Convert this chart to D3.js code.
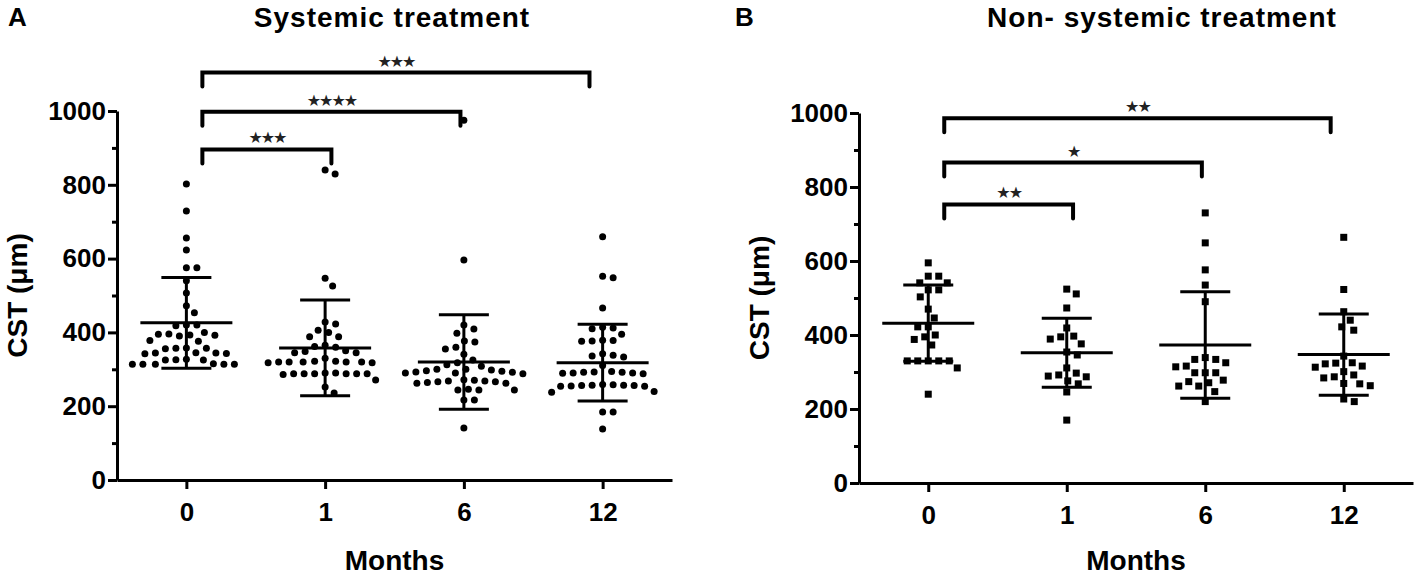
<!DOCTYPE html>
<html>
<head>
<meta charset="utf-8">
<script src="https://cdn.jsdelivr.net/npm/d3@7"></script>
<style>
body { margin: 0; background: #fff; }
svg text { font-family: "Liberation Sans", Arial, sans-serif; font-weight: bold; fill: #000; }
</style>
</head>
<body>
<div id="chart"></div>
<script>
/* categories and ticks */
var months = ["0", "1", "6", "12"];
var majorTicks = [0, 200, 400, 600, 800, 1000];
var minorTicks = [100, 300, 500, 700, 900];

/* A - systemic treatment, CST in um, one list per month */
var systemicValues = [
	[802, 729, 656, 623, 575, 575, 540, 507, 472, 453, 420, 420, 418, 400, 395, 393, 392, 390, 396, 378, 376,
		358, 357, 357, 356, 345, 344, 344, 343, 342, 327, 326, 325, 325, 315, 314, 314, 314, 314, 314],
	[840, 829, 547, 526, 428, 423, 406, 400, 388, 388, 365, 362, 360, 350, 348, 345, 345, 330, 322, 322, 320,
		320, 320, 320, 320, 318, 318, 290, 290, 288, 288, 288, 288, 288, 288, 286, 271, 252, 236],
	[975, 596, 420, 409, 398, 377, 374, 360, 355, 341, 325, 318, 312, 308, 300, 300, 298, 296, 295, 293, 292,
		290, 290, 288, 272, 270, 268, 268, 266, 266, 264, 262, 262, 246, 244, 244, 244, 217, 217, 141],
	[659, 552, 548, 466, 414, 412, 410, 395, 379, 378, 377, 376, 342, 338, 336, 333, 310, 294, 293, 292, 292,
		290, 290, 289, 288, 259, 258, 257, 257, 256, 256, 255, 254, 254, 240, 238, 184, 184, 138]
];
var systemicMeans = [426, 358, 320, 318];
var systemicSD = [123, 130, 128, 104];
var systemicBrackets = [
	{from: "0", to: "1", level: 896, label: "★★★"},
	{from: "0", to: "6", level: 998, label: "★★★★"},
	{from: "0", to: "12", level: 1104, label: "★★★"}
];

/* B - non-systemic treatment */
var nonSystemicValues = [
	[595, 559, 559, 541, 541, 522, 522, 503, 470, 446, 422, 422, 400, 395, 388, 373, 330, 330, 330, 330, 330,
		311, 240],
	[524, 511, 473, 419, 397, 395, 389, 376, 354, 346, 311, 297, 292, 289, 287, 276, 268, 246, 170],
	[730, 649, 576, 535, 490, 339, 334, 334, 325, 316, 314, 298, 298, 298, 278, 274, 271, 262, 262, 247, 220],
	[664, 523, 463, 440, 422, 413, 343, 325, 324, 322, 316, 313, 301, 292, 287, 284, 269, 268, 263, 227, 220]
];
var nonSystemicMeans = [432, 352, 373, 347];
var nonSystemicSD = [103, 93, 144, 110];
var nonSystemicBrackets = [
	{from: "0", to: "1", level: 753, label: "★★"},
	{from: "0", to: "6", level: 866, label: "★"},
	{from: "0", to: "12", level: 986, label: "★★"}
];

var width = 1418,
	height = 578;

var svg = d3.select("#chart").append("svg")
	.attr("width", width)
	.attr("height", height);

var panels = [
	{letter: "A", letterX: 8, title: "Systemic treatment", titleX: 392, left: 117, right: 672, top: 111, bottom: 480,
		marker: "circle", values: systemicValues, means: systemicMeans, sd: systemicSD, brackets: systemicBrackets},
	{letter: "B", letterX: 735, title: "Non- systemic treatment", titleX: 1162, left: 859, right: 1413, top: 113, bottom: 483,
		marker: "square", values: nonSystemicValues, means: nonSystemicMeans, sd: nonSystemicSD, brackets: nonSystemicBrackets}
];

panels.forEach(drawPanel);

/* beeswarm: place sorted points at the smallest horizontal offset that does not overlap */
function swarm(vals, y, dist) {
	var pts = vals.map(function (v) { return {v: v, y: y(v), dx: 0}; })
		.sort(function (a, b) { return a.y - b.y; });
	var placed = [];
	pts.forEach(function (p) {
		for (var k = 0; k < 400; k++) {
			var dx = (k % 2 ? 1 : -1) * Math.ceil(k / 2) * 0.5;
			var hit = placed.some(function (q) {
				var ddx = dx - q.dx, ddy = p.y - q.y;
				return ddx * ddx + ddy * ddy < dist * dist;
			});
			if (!hit) { p.dx = dx; break; }
		}
		placed.push(p);
	});
	return pts;
}

function drawPanel(P) {
	var g = svg.append("g");

	var x = d3.scalePoint()
		.domain(months)
		.range([P.left, P.right])
		.padding(0.5);
	var y = d3.scaleLinear()
		.domain([0, 1000])
		.range([P.bottom, P.top]);

	/* panel letter and title */
	g.append("text")
		.attr("x", P.letterX)
		.attr("y", 26)
		.style("font-size", "26px")
		.text(P.letter);
	g.append("text")
		.attr("x", P.titleX)
		.attr("y", 27)
		.attr("text-anchor", "middle")
		.style("font-size", "28px")
		.style("letter-spacing", "1px")
		.text(P.title);

	/* y axis, major and minor ticks */
	var yAxis = g.append("g")
		.attr("transform", "translate(" + P.left + ",0)")
		.call(d3.axisLeft(y).tickValues(majorTicks).tickFormat(d3.format("d"))
			.tickSize(9).tickSizeOuter(0).tickPadding(2));
	g.append("g")
		.attr("transform", "translate(" + P.left + ",0)")
		.call(d3.axisLeft(y).tickValues(minorTicks).tickSize(5).tickSizeOuter(0).tickFormat(""))
		.select(".domain").remove();

	var xAxis = g.append("g")
		.attr("transform", "translate(0," + P.bottom + ")")
		.call(d3.axisBottom(x).tickSize(9).tickSizeOuter(0).tickPadding(14));

	g.selectAll(".domain, .tick line")
		.attr("stroke", "#000")
		.attr("stroke-width", 3);
	yAxis.selectAll("text").style("font-size", "26px");
	xAxis.selectAll("text").style("font-size", "26px");
	g.selectAll("g").attr("font-family", null).attr("font-size", null);

	/* axis titles */
	g.append("text")
		.attr("transform", "translate(" + (P.left - 90) + "," + ((P.top + P.bottom) / 2) + ") rotate(-90)")
		.attr("text-anchor", "middle")
		.style("font-size", "28px")
		.text("CST (μm)");
	g.append("text")
		.attr("x", (P.left + P.right) / 2)
		.attr("y", 570)
		.attr("text-anchor", "middle")
		.style("font-size", "28px")
		.text("Months");

	/* points */
	months.forEach(function (m, i) {
		var pts = swarm(P.values[i], y, P.marker === "circle" ? 10.5 : 10.5);
		var grp = g.append("g");
		if (P.marker === "circle") {
			grp.selectAll("circle")
				.data(pts)
				.enter().append("circle")
				.attr("cx", function (d) { return x(m) + d.dx; })
				.attr("cy", function (d) { return d.y; })
				.attr("r", 3.5)
				.attr("fill", "#000");
		} else {
			grp.selectAll("rect")
				.data(pts)
				.enter().append("rect")
				.attr("x", function (d) { return x(m) + d.dx - 3.5; })
				.attr("y", function (d) { return d.y - 3.5; })
				.attr("width", 7)
				.attr("height", 7)
				.attr("fill", "#000");
		}

		/* mean and SD */
		var lo = y(P.means[i] - P.sd[i]),
			hi = y(P.means[i] + P.sd[i]),
			cx = x(m);
		var bars = g.append("g")
			.attr("stroke", "#000")
			.attr("stroke-width", 3);
		bars.append("line").attr("x1", cx).attr("x2", cx).attr("y1", lo).attr("y2", hi);
		bars.append("line").attr("x1", cx - 46).attr("x2", cx + 46).attr("y1", y(P.means[i])).attr("y2", y(P.means[i]));
		bars.append("line").attr("x1", cx - 25).attr("x2", cx + 25).attr("y1", lo).attr("y2", lo);
		bars.append("line").attr("x1", cx - 25).attr("x2", cx + 25).attr("y1", hi).attr("y2", hi);
	});

	/* significance brackets */
	P.brackets.forEach(function (b) {
		var x1 = x(b.from) + 16,
			x2 = x1 + 0.93 * (x(b.to) - x(b.from)),
			by = y(b.level);
		g.append("path")
			.attr("d", "M" + x1 + "," + (by + 14) + "V" + by + "H" + x2 + "V" + (by + 14))
			.attr("fill", "none")
			.attr("stroke", "#000")
			.attr("stroke-width", 4)
			.attr("stroke-linecap", "round");
		g.append("text")
			.attr("x", (x1 + x2) / 2)
			.attr("y", by - 6)
			.attr("text-anchor", "middle")
			.style("font-family", "'DejaVu Sans', sans-serif")
			.style("font-weight", "normal")
			.style("font-size", "16px")
			.style("letter-spacing", "-2px")
			.style("fill", "#222")
			.text(b.label);
	});
}
</script>
</body>
</html>
